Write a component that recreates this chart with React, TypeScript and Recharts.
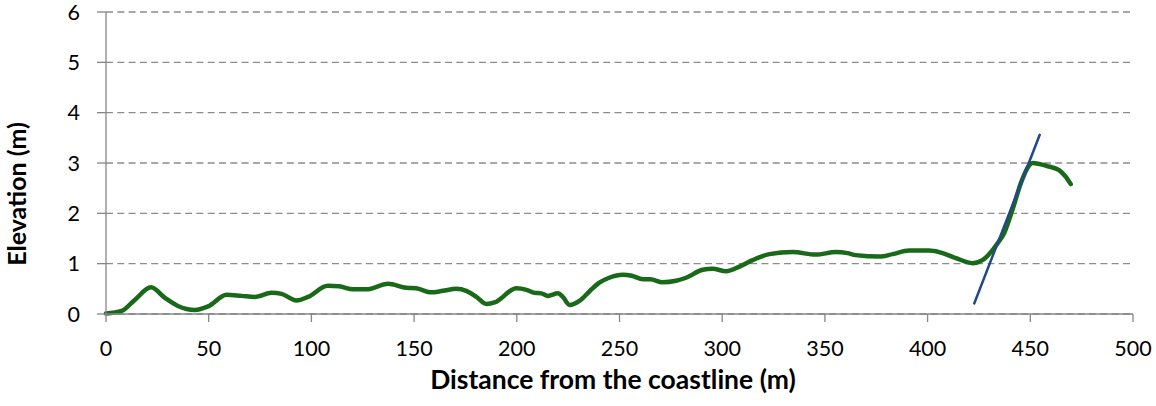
import React from "react";
import { LineChart, Line, XAxis, YAxis, CartesianGrid, Label } from "recharts";

const distances = [0, 7.6, 14, 21.9, 28.7, 35, 43.3, 49.7, 58.7, 66, 72.5, 80.6, 85.5, 92.7, 98.4, 108, 113.5, 120.3, 126.8, 137.3, 146.2, 151, 158.4, 164, 170.6, 175.4, 180.3, 185.2, 189.2, 199.8, 204.7, 208.7, 211.9, 215.1, 220, 222.4, 225.7, 230.5, 235.4, 240, 245, 251.6, 256, 261.4, 265, 271, 277.5, 282.4, 290.5, 295.3, 301.9, 308.4, 314.8, 323, 334.3, 345.6, 355.4, 361, 365, 376.5, 383, 391, 400.8, 405.6, 413.8, 421.9, 426.7, 434, 437.3, 441.3, 445.4, 449.4, 451, 459, 464, 467.2, 469.7];
const elevations = [0.01, 0.06, 0.28, 0.53, 0.32, 0.16, 0.08, 0.15, 0.38, 0.36, 0.34, 0.42, 0.4, 0.27, 0.34, 0.56, 0.55, 0.49, 0.49, 0.6, 0.52, 0.51, 0.43, 0.46, 0.5, 0.46, 0.34, 0.2, 0.23, 0.51, 0.48, 0.42, 0.41, 0.36, 0.41, 0.34, 0.18, 0.26, 0.45, 0.62, 0.72, 0.78, 0.76, 0.69, 0.69, 0.63, 0.66, 0.72, 0.88, 0.9, 0.85, 0.94, 1.07, 1.19, 1.23, 1.18, 1.23, 1.21, 1.17, 1.14, 1.19, 1.26, 1.26, 1.23, 1.11, 1.01, 1.07, 1.4, 1.61, 2.07, 2.6, 2.95, 3.0, 2.93, 2.86, 2.73, 2.58];

const slopeX = [422.7, 454.6];
const slopeY = [0.21, 3.56];

const xTicks = [0, 50, 100, 150, 200, 250, 300, 350, 400, 450, 500];
const yTicks = [0, 1, 2, 3, 4, 5, 6];

const profileData = distances.map((d, i) => ({ x: d, y: elevations[i] }));
const slopeData = slopeX.map((d, i) => ({ x: d, s: slopeY[i] }));

const FONT = "Lato, 'Noto Sans', sans-serif";
const AXIS = "#868686";

export default function App() {
  return (
    <div style={{ position: "absolute", left: 0, top: 0, width: 1156, height: 406, background: "#fff" }}>
      <LineChart width={1156} height={406} margin={{ top: 12, right: 23, bottom: 0, left: 0 }}>
        <CartesianGrid vertical={false} stroke="#8c8c8c" strokeWidth={1.3} strokeDasharray="7 4.3" />
        <XAxis
          dataKey="x"
          type="number"
          domain={[0, 500]}
          ticks={xTicks}
          allowDuplicatedCategory={false}
          height={92}
          stroke={AXIS}
          strokeWidth={1.3}
          tickSize={8}
          tickMargin={19}
          tick={{ fill: "#000", fontSize: 21.5, fontFamily: FONT }}
          tickLine={{ stroke: AXIS, strokeWidth: 1.3 }}
        >
          <Label
            content={() => (
              <text x={613} y={389} textAnchor="middle" fontFamily={FONT} fontSize={26.5} fontWeight={700} fill="#000">
                Distance from the coastline (m)
              </text>
            )}
          />
        </XAxis>
        <YAxis
          type="number"
          domain={[0, 6]}
          ticks={yTicks}
          width={106}
          stroke={AXIS}
          strokeWidth={1.3}
          tickSize={9}
          tickMargin={17}
          tick={{ fill: "#000", fontSize: 21.5, fontFamily: FONT }}
          tickLine={{ stroke: AXIS, strokeWidth: 1.3 }}
        >
          <Label
            content={() => (
              <text transform="translate(26,194) rotate(-90)" textAnchor="middle" fontFamily={FONT} fontSize={25} fontWeight={700} fill="#000">
                Elevation (m)
              </text>
            )}
          />
        </YAxis>
        <Line
          data={profileData}
          dataKey="y"
          type="monotone"
          stroke="#186a18"
          strokeWidth={4.5}
          dot={false}
          activeDot={false}
          isAnimationActive={false}
          strokeLinecap="round"
        />
        <Line
          data={slopeData}
          dataKey="s"
          type="linear"
          stroke="#1f4a86"
          strokeWidth={2.5}
          dot={false}
          activeDot={false}
          isAnimationActive={false}
          strokeLinecap="round"
        />
      </LineChart>
    </div>
  );
}
